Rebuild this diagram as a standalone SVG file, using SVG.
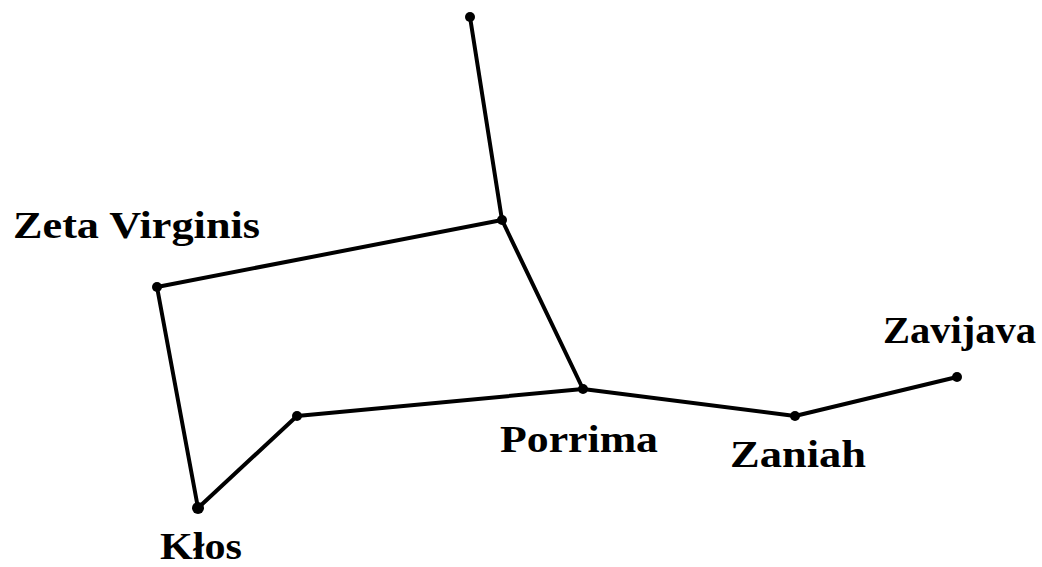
<svg xmlns="http://www.w3.org/2000/svg" width="1042" height="567" viewBox="0 0 1042 567">
<style>
.l{stroke:#000;stroke-width:4;fill:none;stroke-linecap:round;stroke-linejoin:round}
.s{fill:#000}
.t{font-family:"Liberation Serif",serif;font-weight:bold;font-size:38px;fill:#000}
</style>
<rect width="1042" height="567" fill="#fff"/>
<g id="connectors">
<polyline class="l" points="470,17 502,220 583,389"/>
<polyline class="l" points="502,220 157,287 198,508 297,416 583,389 795,416 957,377"/>
</g>
<g id="star-top"><circle class="s" cx="470" cy="17" r="5"/></g>
<g id="star-mid"><circle class="s" cx="502" cy="220" r="5"/></g>
<g id="zeta"><circle class="s" cx="157" cy="287" r="5"/><text class="t" x="13" y="238" textLength="247" lengthAdjust="spacingAndGlyphs">Zeta Virginis</text></g>
<g id="klos"><circle class="s" cx="198" cy="508" r="6"/><text class="t" x="160" y="559" textLength="82" lengthAdjust="spacingAndGlyphs">Kłos</text></g>
<g id="star-low"><circle class="s" cx="297" cy="416" r="5"/></g>
<g id="porrima"><circle class="s" cx="583" cy="389" r="5"/><text class="t" x="500" y="452" textLength="158" lengthAdjust="spacingAndGlyphs">Porrima</text></g>
<g id="zaniah"><circle class="s" cx="795" cy="416" r="5"/><text class="t" x="730" y="467" textLength="136" lengthAdjust="spacingAndGlyphs">Zaniah</text></g>
<g id="zavijava"><circle class="s" cx="957" cy="377" r="5"/><text class="t" x="883" y="343" textLength="153" lengthAdjust="spacingAndGlyphs">Zavijava</text></g>
</svg>
